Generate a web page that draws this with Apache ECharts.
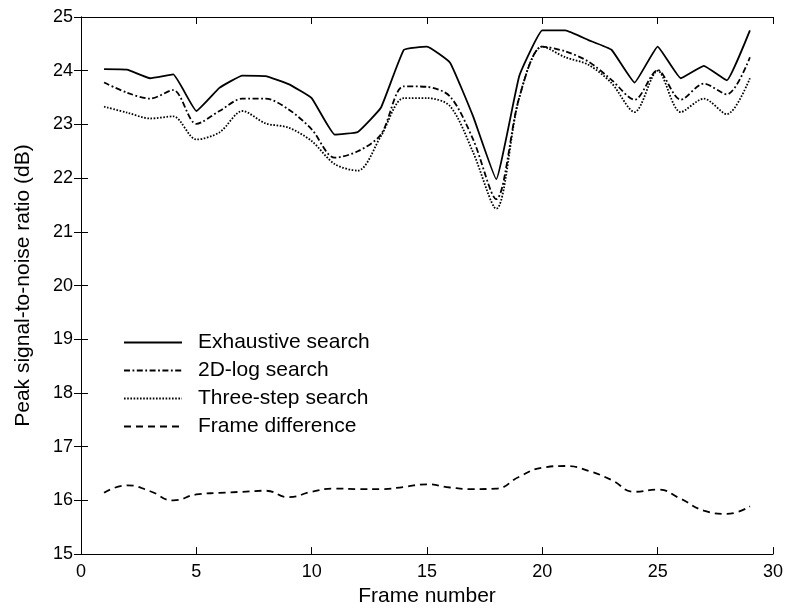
<!DOCTYPE html>
<html>
<head>
<meta charset="utf-8">
<script src="https://cdn.jsdelivr.net/npm/echarts@6/dist/echarts.min.js"></script>
<style>
html,body{margin:0;padding:0;background:#fff;}
#chart{width:786px;height:612px;}
</style>
</head>
<body>
<div id="chart"></div>
<script>
var frames = [1,2,3,4,5,6,7,8,9,10,11,12,13,14,15,16,17,18,19,20,21,22,23,24,25,26,27,28,29];
var exhaustive = [24.03,24.02,23.86,23.93,23.25,23.68,23.91,23.90,23.75,23.49,22.81,22.86,23.31,24.39,24.45,24.15,23.15,21.98,23.90,24.75,24.75,24.57,24.39,23.78,24.45,23.86,24.09,23.82,24.75];
var log2d = [23.78,23.59,23.48,23.64,23.01,23.25,23.48,23.48,23.28,22.91,22.38,22.50,22.81,23.71,23.70,23.52,22.72,21.61,23.50,24.45,24.36,24.17,23.83,23.46,24.01,23.46,23.76,23.56,24.25];
var threeStep = [23.33,23.22,23.11,23.15,22.72,22.85,23.25,23.02,22.94,22.69,22.26,22.14,22.78,23.49,23.49,23.34,22.48,21.43,23.50,24.45,24.25,24.11,23.77,23.23,24.00,23.23,23.48,23.19,23.86];
var frameDiff = [16.14,16.28,16.17,16.00,16.11,16.14,16.16,16.18,16.06,16.16,16.22,16.21,16.21,16.25,16.30,16.24,16.21,16.22,16.44,16.61,16.64,16.55,16.38,16.16,16.20,16.03,15.81,15.75,15.89];
var seriesNames = ['Exhaustive search','2D-log search','Three-step search','Frame difference'];

function pairs(vals){ return frames.map(function(f,i){ return [f, vals[i]]; }); }

var FONT = 'Liberation Sans, Arial, Helvetica, sans-serif';
var axisCommon = {
  axisLine:{show:true, lineStyle:{color:'#000', width:1}},
  axisTick:{show:true, inside:true, length:7, lineStyle:{color:'#000', width:1}},
  splitLine:{show:false}
};

var chart = echarts.init(document.getElementById('chart'), null, {renderer:'canvas'});
chart.setOption({
  animation:false,
  backgroundColor:'#fff',
  grid:{left:81, right:12, top:17, bottom:55, containLabel:false},
  legend:{
    orient:'vertical', left:123, top:332, padding:0,
    itemWidth:58, itemHeight:20, itemGap:7,
    itemStyle:{color:'rgba(0,0,0,0)', borderWidth:0, opacity:0},
    textStyle:{fontFamily:FONT, fontSize:21, color:'#000', lineHeight:20, padding:[0,0,0,11]},
    data:seriesNames
  },
  xAxis:[
    Object.assign({type:'value', min:0, max:30, interval:5, position:'bottom',
      name:'Frame number', nameLocation:'middle', nameGap:28,
      nameTextStyle:{fontFamily:FONT, fontSize:21, color:'#000'},
      axisLabel:{fontFamily:FONT, fontSize:18, color:'#000', margin:9}}, axisCommon),
    Object.assign({type:'value', min:0, max:30, interval:5, position:'top',
      axisLabel:{show:false}}, axisCommon)
  ],
  yAxis:[
    Object.assign({type:'value', min:15, max:25, interval:1, position:'left',
      name:'Peak signal-to-noise ratio (dB)', nameLocation:'middle', nameGap:47,
      nameTextStyle:{fontFamily:FONT, fontSize:21, color:'#000'},
      axisLabel:{fontFamily:FONT, fontSize:18, color:'#000', margin:8}}, axisCommon),
    Object.assign({type:'value', min:15, max:25, interval:1, position:'right',
      axisLabel:{show:false}}, axisCommon)
  ],
  series:[
    {name:seriesNames[0], type:'line', data:pairs(exhaustive), symbol:'none', smooth:0.1,
      lineStyle:{color:'#000', width:1.8, type:'solid'}, itemStyle:{color:'#000'}},
    {name:seriesNames[1], type:'line', data:pairs(log2d), symbol:'none', smooth:0.3,
      lineStyle:{color:'#000', width:1.8, type:[6,2.5,1.8,2.5]}, itemStyle:{color:'#000'}},
    {name:seriesNames[2], type:'line', data:pairs(threeStep), symbol:'none', smooth:0.3,
      lineStyle:{color:'#000', width:1.8, type:[1.6,1.6]}, itemStyle:{color:'#000'}},
    {name:seriesNames[3], type:'line', data:pairs(frameDiff), symbol:'none', smooth:0.5,
      lineStyle:{color:'#000', width:1.8, type:[7,5]}, itemStyle:{color:'#000'}}
  ]
});
</script>
</body>
</html>
